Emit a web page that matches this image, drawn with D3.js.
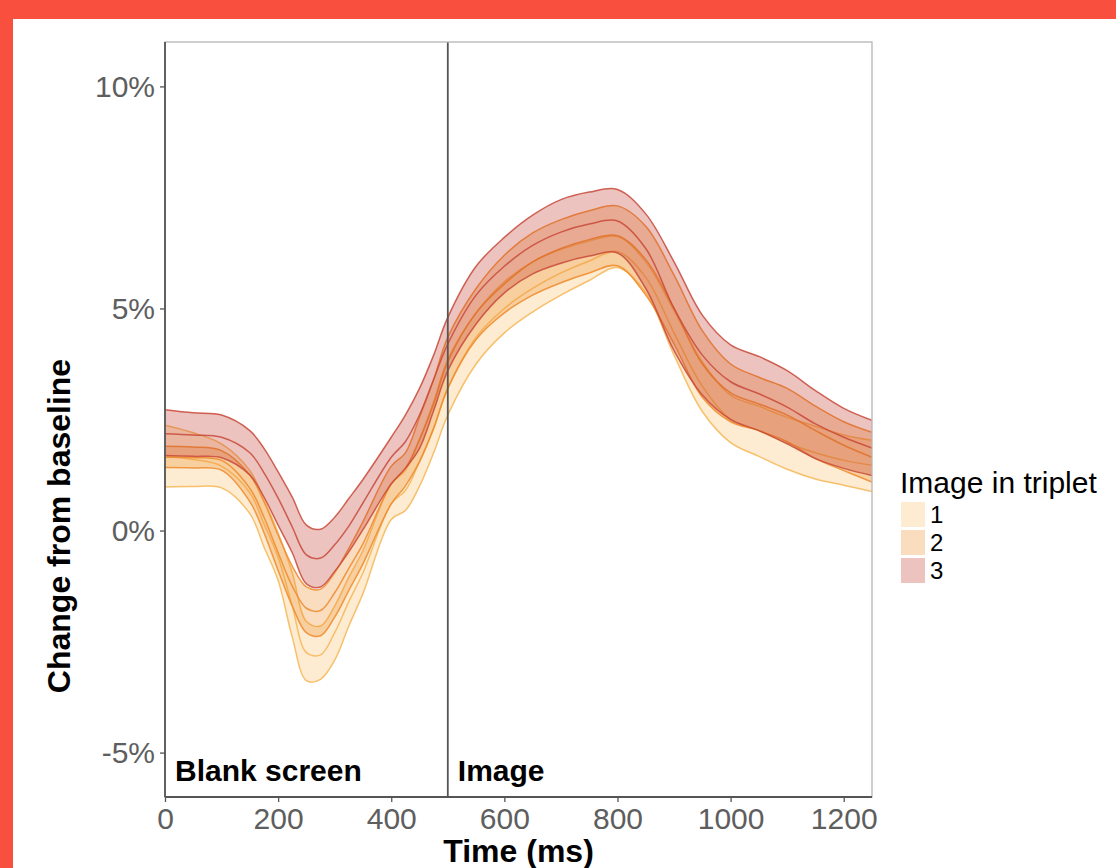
<!DOCTYPE html>
<html>
<head>
<meta charset="utf-8">
<script src="https://cdn.jsdelivr.net/npm/d3@7"></script>
<style>
  body { margin: 0; background: #fff; }
  svg text { font-family: "Liberation Sans", Arial, Helvetica, sans-serif; }
</style>
</head>
<body>
<div id="chart"></div>
<script>
// time points (ms)
var times = [0, 50, 100, 150, 175, 200, 225, 250, 275, 300, 325, 350, 400, 425, 450, 475, 500,
             550, 600, 650, 700, 750, 800, 850, 900, 950, 1000, 1050, 1100, 1150, 1200, 1250];

// image in triplet = 1
var upper1 = [2.37, 2.2, 1.95, 1.35, 0.7, -0.05, -0.95, -2.05, -2.15, -1.7, -1.05, -0.45, 1.05, 1.35, 2.05, 2.9, 3.85,
              4.9, 5.6, 6.05, 6.33, 6.52, 6.62, 6.05, 4.95, 3.8, 3.05, 2.8, 2.55, 2.35, 2.15, 2.03];
var mean1  = [1.68, 1.6, 1.45, 0.85, 0.15, -0.6, -1.7, -2.75, -2.8, -2.3, -1.6, -0.95, 0.6, 0.9, 1.55, 2.3, 3.2,
              4.35, 5.0, 5.45, 5.8, 6.07, 6.28, 5.7, 4.45, 3.25, 2.5, 2.25, 1.97, 1.75, 1.58, 1.47];
var lower1 = [0.98, 0.99, 0.96, 0.38, -0.37, -1.12, -2.4, -3.38, -3.35, -2.92, -2.15, -1.42, 0.25, 0.45, 1.0, 1.75, 2.6,
              3.75, 4.45, 4.92, 5.3, 5.63, 5.92, 5.35, 3.95, 2.68, 1.98, 1.67, 1.38, 1.16, 1.02, 0.88];

// image in triplet = 2
var upper2 = [1.9, 1.88, 1.8, 1.25, 0.65, -0.1, -0.8, -1.27, -1.32, -0.95, -0.4, 0.2, 1.45, 1.75, 2.55, 3.4, 4.35,
              5.45, 6.2, 6.7, 7.0, 7.2, 7.31, 6.85, 5.75, 4.5, 3.75, 3.45, 3.2, 2.8, 2.45, 2.21];
var mean2  = [1.65, 1.64, 1.58, 0.95, 0.3, -0.5, -1.25, -1.75, -1.8, -1.4, -0.85, -0.3, 1.05, 1.4, 2.05, 2.85, 3.8,
              4.9, 5.55, 6.05, 6.35, 6.55, 6.64, 6.1, 5.0, 3.75, 3.1, 2.85, 2.6, 2.25, 1.92, 1.65];
var lower2 = [1.42, 1.41, 1.36, 0.65, -0.05, -0.9, -1.7, -2.3, -2.37, -1.95, -1.35, -0.75, 0.6, 1.0, 1.55, 2.3, 3.2,
              4.3, 4.9, 5.3, 5.58, 5.8, 5.96, 5.3, 4.2, 3.0, 2.45, 2.25, 2.0, 1.62, 1.35, 1.09];

// image in triplet = 3
var upper3 = [2.72, 2.65, 2.6, 2.25, 1.85, 1.32, 0.75, 0.12, 0.03, 0.3, 0.72, 1.15, 2.1, 2.6, 3.2, 3.95, 4.8,
              5.95, 6.6, 7.1, 7.45, 7.62, 7.68, 7.13, 6.05, 4.85, 4.18, 3.92, 3.6, 3.15, 2.75, 2.48];
var mean3  = [2.18, 2.15, 2.1, 1.75, 1.3, 0.73, 0.08, -0.55, -0.62, -0.32, 0.1, 0.62, 1.65, 2.0, 2.6, 3.4, 4.2,
              5.3, 5.95, 6.42, 6.72, 6.9, 6.97, 6.35, 5.0, 3.95, 3.35, 3.08, 2.78, 2.4, 2.1, 1.86];
var lower3 = [1.69, 1.67, 1.64, 1.25, 0.75, 0.12, -0.5, -1.2, -1.27, -0.92, -0.48, 0.02, 1.05, 1.4, 1.85, 2.7, 3.6,
              4.65, 5.35, 5.78, 6.02, 6.18, 6.25, 5.45, 4.05, 3.05, 2.5, 2.25, 1.95, 1.62, 1.4, 1.24];

var tripletKeys = ["1", "2", "3"];
var fillColors = ["#f8c069", "#ee8a2a", "#c0392b"];
var lineColors = ["#f6b655", "#ee8a2a", "#c8493a"];

var xTicks = [0, 200, 400, 600, 800, 1000, 1200];
var yTicks = [-5, 0, 5, 10];
var yTickLabels = ["-5%", "0%", "5%", "10%"];

var phaseLabels = ["Blank screen", "Image"];
var phaseStarts = [0, 500];

function drawChart() {
  var width = 1116, height = 868;
  var left = 165, right = 872, top = 42, bottom = 797;

  var svg = d3.select("#chart").append("svg")
      .attr("width", width)
      .attr("height", height);

  // red frame around the figure
  svg.append("rect").attr("width", width).attr("height", height).attr("fill", "#f94f3f");
  svg.append("rect").attr("x", 13).attr("y", 19)
      .attr("width", width - 13).attr("height", height - 19).attr("fill", "#fff");

  var x = d3.scaleLinear().domain([0, 1250]).range([left, right]);
  var y = d3.scaleLinear().domain([-6, 11]).range([bottom, top]);

  svg.append("clipPath").attr("id", "panel")
    .append("rect").attr("x", left).attr("y", top)
      .attr("width", right - left).attr("height", bottom - top);

  var uppers = [upper1, upper2, upper3];
  var means = [mean1, mean2, mean3];
  var lowers = [lower1, lower2, lower3];

  var series = tripletKeys.map(function(k, i) {
    return {
      key: k,
      fill: fillColors[i],
      line: lineColors[i],
      rows: times.map(function(t, j) {
        return { t: t, lo: lowers[i][j], mid: means[i][j], hi: uppers[i][j] };
      })
    };
  });

  var curve = d3.curveCatmullRom.alpha(0.5);

  var area = d3.area()
      .x(function(d) { return x(d.t); })
      .y0(function(d) { return y(d.lo); })
      .y1(function(d) { return y(d.hi); })
      .curve(curve);

  function lineOf(key) {
    return d3.line()
      .x(function(d) { return x(d.t); })
      .y(function(d) { return y(d[key]); })
      .curve(curve);
  }

  var plot = svg.append("g").attr("clip-path", "url(#panel)");

  series.forEach(function(s) {
    var g = plot.append("g");
    g.append("path")
      .attr("d", area(s.rows))
      .attr("fill", s.fill)
      .attr("fill-opacity", 0.3);
    ["lo", "mid", "hi"].forEach(function(k) {
      g.append("path")
        .attr("d", lineOf(k)(s.rows))
        .attr("fill", "none")
        .attr("stroke", s.line)
        .attr("stroke-opacity", 0.85)
        .attr("stroke-width", 1.5);
    });
  });

  // stimulus onset
  svg.append("line")
    .attr("x1", x(500)).attr("x2", x(500))
    .attr("y1", top).attr("y2", bottom)
    .attr("stroke", "#555").attr("stroke-width", 1.8);

  // panel border + axis lines
  svg.append("rect")
    .attr("x", left).attr("y", top)
    .attr("width", right - left).attr("height", bottom - top)
    .attr("fill", "none").attr("stroke", "#b5b5b5").attr("stroke-width", 1.3);

  var xAxis = svg.append("g")
    .attr("transform", "translate(0," + bottom + ")")
    .call(d3.axisBottom(x).tickValues(xTicks).tickFormat(d3.format("d")).tickSize(5).tickPadding(6));
  var yAxis = svg.append("g")
    .attr("transform", "translate(" + left + ",0)")
    .call(d3.axisLeft(y).tickValues(yTicks).tickFormat(function(d, i) { return yTickLabels[i]; }).tickSize(5).tickPadding(5));

  [xAxis, yAxis].forEach(function(a) {
    a.select(".domain").attr("stroke", "#555").attr("stroke-width", 1.8);
    a.selectAll(".tick line").attr("stroke", "#555").attr("stroke-width", 1.3);
    a.selectAll(".tick text")
      .attr("fill", "#5e5e5e")
      .style("font-size", "30px");
  });
  xAxis.select(".domain").attr("d", "M" + left + ",0H" + right);
  yAxis.select(".domain").attr("d", "M0," + top + "V" + bottom);

  // phase labels
  svg.selectAll(".phase")
    .data(phaseLabels)
    .enter().append("text")
    .attr("class", "phase")
    .attr("x", function(d, i) { return x(phaseStarts[i]) + 10; })
    .attr("y", 781)
    .attr("font-size", "30px")
    .attr("font-weight", "bold")
    .attr("fill", "#000")
    .text(function(d) { return d; });

  // axis titles
  svg.append("text")
    .attr("x", (left + right) / 2).attr("y", 862)
    .attr("text-anchor", "middle")
    .attr("font-size", "32px").attr("font-weight", "bold")
    .text("Time (ms)");
  svg.append("text")
    .attr("transform", "translate(70,526) rotate(-90)")
    .attr("text-anchor", "middle")
    .attr("font-size", "32px").attr("font-weight", "bold")
    .text("Change from baseline");

  // legend
  var legend = svg.append("g");
  legend.append("text")
    .attr("x", 900).attr("y", 493)
    .attr("font-size", "30px")
    .text("Image in triplet");
  var item = legend.selectAll(".item")
    .data(series)
    .enter().append("g")
    .attr("class", "item")
    .attr("transform", function(d, i) { return "translate(901," + (502 + i * 28) + ")"; });
  item.append("rect")
    .attr("width", 24).attr("height", 25)
    .attr("fill", function(d) { return d.fill; })
    .attr("fill-opacity", 0.3);
  item.append("text")
    .attr("x", 29).attr("y", 21)
    .attr("font-size", "24px")
    .text(function(d) { return d.key; });
}

drawChart();
</script>
</body>
</html>
